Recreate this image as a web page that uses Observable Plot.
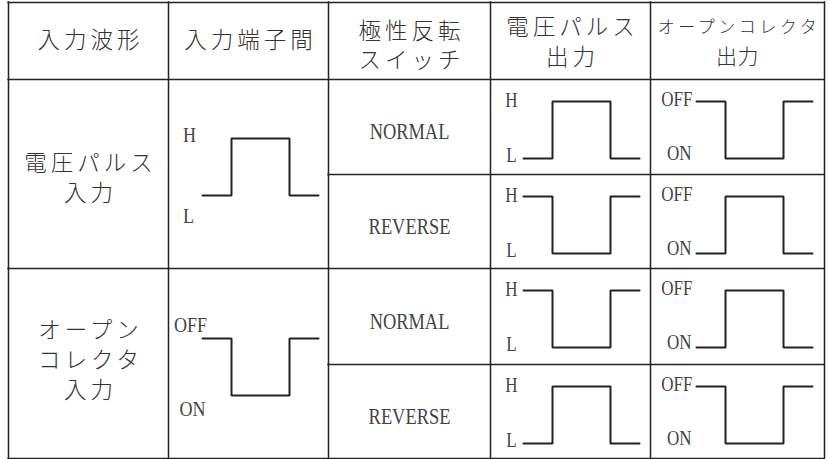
<!DOCTYPE html>
<html><head><meta charset="utf-8">
<script src="https://cdn.jsdelivr.net/npm/d3@7"></script>
<script src="https://cdn.jsdelivr.net/npm/@observablehq/plot@0.6"></script>
<style>
html,body{margin:0;padding:0;background:#fff;}
g[aria-description="jp-main"] text{letter-spacing:4px;}
g[aria-description="jp-oc"] text{letter-spacing:3.5px;}
g[aria-description="jp-tight"] text{letter-spacing:0.5px;}
</style></head><body><div id="chart"></div>
<script>
// ---- data ----
const headers = [["入力波形"], ["入力端子間"], ["極性反転", "スイッチ"], ["電圧パルス", "出力"], ["オープンコレクタ", "出力"]];
const groupNames = [["電圧パルス", "入力"], ["オープン", "コレクタ", "入力"]];
const switchModes = ["NORMAL", "REVERSE", "NORMAL", "REVERSE"];
const inputWaves = [[0, 1, 0], [1, 0, 1]];              // 1 = upper level, 0 = lower level
const inputLevelNames = [["H", "L"], ["OFF", "ON"]];
const voltageOut = [[0, 1, 0], [1, 0, 1], [1, 0, 1], [0, 1, 0]];
const collectorOut = [[1, 0, 1], [0, 1, 0], [0, 1, 0], [1, 0, 1]];
const voltageLevelNames = ["H", "L"];
const collectorLevelNames = ["OFF", "ON"];
const pulseTimes = [0, 1, 3, 4];

// ---- layout ----
const colEdges = [8, 168, 328, 490, 650, 824];
const rowEdges = [2, 79, 174, 268, 364, 458];
const unit = 29, pulseH = 57;
const inputWaveStart = 34, inputTopOffset = [59, 70];
const outWaveStart = [33, 46], outTopOffset = 22;
const inputLabelPos = [[[21, -4], [20, 20]], [[22, -14], [24, 13]]];
const groupLineOffset = [5, -3], groupLineStep = 30;

const colCenter = c => (colEdges[c] + colEdges[c + 1]) / 2;
const rowCenter = r => (rowEdges[r] + rowEdges[r + 1]) / 2;

// grid lines
const hLines = rowEdges.map((y, i) => ({y, x1: (i === 2 || i === 4) ? colEdges[2] : colEdges[0], x2: colEdges[5]}));

// waveforms
const wavePts = [];
function addWave(id, levels, x0, yHi) {
  levels.forEach((lv, i) => {
    const y = lv ? yHi : yHi + pulseH;
    wavePts.push({id, x: x0 + unit * pulseTimes[i], y});
    wavePts.push({id, x: x0 + unit * pulseTimes[i + 1], y});
  });
}
const inLabels = [];
inputWaves.forEach((lv, g) => {
  const yHi = rowEdges[1 + 2 * g] + inputTopOffset[g];
  addWave("in" + g, lv, colEdges[1] + inputWaveStart, yHi);
  const [hiPos, loPos] = inputLabelPos[g];
  inLabels.push({t: inputLevelNames[g][0], x: colEdges[1] + hiPos[0], y: yHi + hiPos[1]});
  inLabels.push({t: inputLevelNames[g][1], x: colEdges[1] + loPos[0], y: yHi + pulseH + loPos[1]});
});
const outLabelsMid = [], outLabelsEnd = [];
switchModes.forEach((m, r) => {
  const yHi = rowEdges[1 + r] + outTopOffset;
  addWave("v" + r, voltageOut[r], colEdges[3] + outWaveStart[0], yHi);
  addWave("c" + r, collectorOut[r], colEdges[4] + outWaveStart[1], yHi);
  outLabelsMid.push({t: voltageLevelNames[0], x: colEdges[3] + 21, y: yHi - 1});
  outLabelsMid.push({t: voltageLevelNames[1], x: colEdges[3] + 21, y: yHi + pulseH - 3});
  outLabelsEnd.push({t: collectorLevelNames[0], x: colEdges[4] + 42, y: yHi - 2});
  outLabelsEnd.push({t: collectorLevelNames[1], x: colEdges[4] + 41, y: yHi + pulseH - 5});
});

// texts
const jpMain = [], jpOc = [], jpTight = [];
headers.forEach((lines, c) => {
  const ys = lines.length === 1 ? [40] : (c === 2 ? [31, 60] : [27, 57]);
  lines.forEach((t, i) => {
    const d = {t, x: colCenter(c), y: ys[i]};
    if (c === 4 && i === 0) jpOc.push(d);
    else if (c === 4) jpTight.push(d);
    else jpMain.push(d);
  });
});
groupNames.forEach((lines, g) => {
  const cy = (rowEdges[1 + 2 * g] + rowEdges[3 + 2 * g]) / 2 + groupLineOffset[g];
  lines.forEach((t, i) => jpMain.push({t, x: colCenter(0), y: cy + (i - (lines.length - 1) / 2) * groupLineStep}));
});
const swLabels = switchModes.map((t, r) => ({t, x: colCenter(2), y: rowCenter(1 + r) + 5}));

const jpFont = "'Noto Sans CJK JP', sans-serif";
const latinFont = "'Liberation Serif', serif";
const ink = "#222";
const textInk = "#333";
const latinInk = "#444";

const svg = Plot.plot({
  width: 829, height: 459,
  marginTop: 0, marginRight: 0, marginBottom: 0, marginLeft: 0,
  x: {domain: [0, 829], range: [0, 829], axis: null},
  y: {domain: [0, 459], range: [0, 459], axis: null},
  marks: [
    Plot.ruleX(colEdges, {x: d => d, y1: rowEdges[0], y2: rowEdges[5], stroke: ink, strokeWidth: 1.5, strokeLinecap: "square"}),
    Plot.ruleY(hLines, {y: "y", x1: "x1", x2: "x2", stroke: ink, strokeWidth: 1.5, strokeLinecap: "square"}),
    Plot.line(wavePts, {x: "x", y: "y", z: "id", stroke: ink, strokeWidth: 2, strokeLinejoin: "miter", curve: "linear"}),
    Plot.text(jpMain, {x: "x", y: "y", text: "t", dx: 2, fontSize: 22.5, fontFamily: jpFont, fontWeight: 300, fill: textInk, ariaDescription: "jp-main"}),
    Plot.text(jpOc, {x: "x", y: "y", text: "t", dx: 1.5, fontSize: 17, fontFamily: jpFont, fontWeight: 300, fill: textInk, ariaDescription: "jp-oc"}),
    Plot.text(jpTight, {x: "x", y: "y", text: "t", dx: 0, fontSize: 21, fontFamily: jpFont, fontWeight: 300, fill: textInk, ariaDescription: "jp-tight"}),
    Plot.text(swLabels, {x: "x", y: "y", text: "t", fontSize: 23, fontFamily: latinFont, fill: latinInk, ariaDescription: "latin-sw"}),
    Plot.text(inLabels, {x: "x", y: "y", text: "t", fontSize: 22, fontFamily: latinFont, fill: latinInk, ariaDescription: "latin-in"}),
    Plot.text(outLabelsMid, {x: "x", y: "y", text: "t", fontSize: 20, fontFamily: latinFont, fill: latinInk, ariaDescription: "latin-out"}),
    Plot.text(outLabelsEnd, {x: "x", y: "y", text: "t", textAnchor: "end", fontSize: 20, fontFamily: latinFont, fill: latinInk, ariaDescription: "latin-out"})
  ]
});
document.getElementById("chart").appendChild(svg);
const condense = {"latin-sw": 0.8, "latin-in": 0.82, "latin-out": 0.85};
for (const [k, f] of Object.entries(condense)) {
  svg.querySelectorAll(`g[aria-description="${k}"] text`).forEach(t => {
    const len = t.getComputedTextLength();
    t.setAttribute("textLength", (len * f).toFixed(2));
    t.setAttribute("lengthAdjust", "spacingAndGlyphs");
  });
}
</script></body></html>
